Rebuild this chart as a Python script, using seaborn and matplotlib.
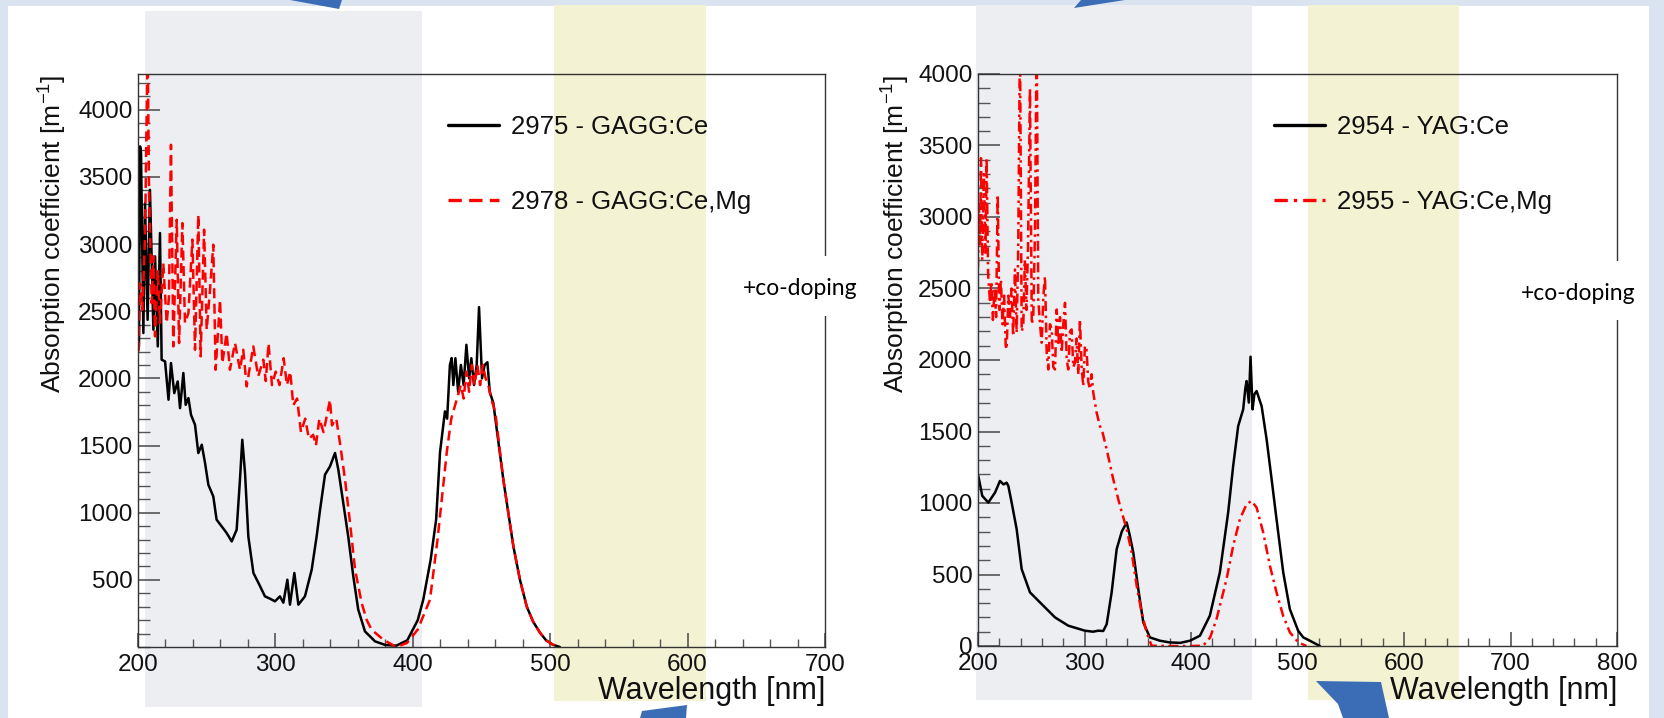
import matplotlib
matplotlib.use("Agg")
import matplotlib.pyplot as plt
from matplotlib.patches import Rectangle, Polygon
from matplotlib.ticker import MultipleLocator, FixedLocator
import pandas as pd
import seaborn as sns

# ---------------- data ----------------
gagg_ce_wl = [200, 200.7, 201.5, 202.2, 203.9, 205.1, 207, 208.7, 211.2, 212.4, 214.4, 216, 217.2,
              219.7, 222.2, 224, 226.4, 228.9, 230.6, 233, 234.7, 236.7, 238.6, 241.5, 243.9, 246.4,
              248.8, 251.2, 254.8, 257.2, 260.9, 264.5, 268.2, 271.8, 274.2, 275.9, 277.9, 280.3, 284,
              288, 292.4, 296, 299.7, 303.3, 305.8, 308.7, 310.6, 313.8, 316.7, 321.5, 326.4, 330,
              332.5, 336.1, 339.7, 343.4, 345.8, 349.4, 353, 356.7, 360.3, 365.2, 372.5, 380, 388,
              396, 403.6, 407.6, 413, 417, 419.8, 423.4, 425, 427, 428.3, 429.5, 431, 433, 435, 437,
              439, 441, 442.6, 444.5, 446.5, 448.2, 450.4, 452.3, 454.3, 456, 458.6, 462, 465.9,
              469.5, 473.2, 478, 482.9, 487.5, 492.6, 497, 502, 507]
gagg_ce_val = [2250, 2238, 3727, 3677, 2337, 3305, 2436, 3404, 2362, 2908, 2238, 3082, 2139,
               2126, 1841, 2114, 1890, 1977, 1778, 2040, 1803, 1853, 1728, 1654, 1444, 1506,
               1370, 1208, 1121, 948, 898, 849, 786, 873, 1245, 1543, 1295, 823, 551,
               470, 377, 360, 340, 377, 330, 501, 315, 551, 315, 377, 575, 823,
               1022, 1283, 1344, 1444, 1320, 1072, 823, 526, 278, 116, 42, 15, 10,
               50, 200, 352, 650, 950, 1448, 1754, 1700, 2100, 2151, 1950, 2150, 1900, 2100, 1950,
               2250, 2000, 2150, 1950, 2100, 2530, 2000, 2100, 2120, 1900, 1816, 1550, 1245,
               1000, 749, 500, 302, 190, 106, 50, 17, 0]

gagg_mg_wl = [200, 200.5, 201.5, 203.2, 205.1, 207, 208, 210, 211.2, 212.4, 214.4, 216, 218.4,
              220.9, 222.5, 224, 225.7, 228.2, 229.9, 232.3, 234.2, 236.7, 239.6, 241.5, 243.9,
              245.6, 248.1, 250, 252.4, 254.8, 256.5, 259.7, 261.4, 264.5, 266.9, 270.6, 274.2,
              276.6, 279.1, 283.9, 287.5, 291.2, 293, 295, 297.5, 300.2, 303, 306, 308.4, 310.8,
              313, 315.8, 318.6, 321.7, 324.4, 327.5, 329.5, 332, 335, 338, 339.7, 341.2, 343.4,
              344.3, 347, 350.7, 354.3, 358, 362.8, 366.5, 370, 378.6, 388, 395.8, 403.6, 412.5,
              418, 424.7, 428, 431.9, 435, 437, 439, 441, 443, 445, 447, 449, 451, 453, 455, 457,
              460, 465.9, 469.5, 473.2, 478, 482.9, 487.5, 492.6, 497, 502, 507]
gagg_mg_val = [2200, 2213, 2709, 2511, 3057, 4500, 3429, 2560, 2908, 2313, 2808, 2412, 2858,
               2412, 2600, 3739, 2238, 3181, 2263, 3156, 2412, 2486, 3033, 2213, 3218,
               2164, 3107, 2362, 2660, 2995, 2064, 2585, 2114, 2337, 2064, 2263, 2064,
               2213, 1940, 2238, 2015, 2139, 1980, 2260, 1950, 2050, 1950, 2150, 1950, 2050,
               1800, 1850, 1600, 1700, 1550, 1580, 1500, 1700, 1600, 1750, 1840, 1650, 1692,
               1700, 1518, 1245, 925, 575, 327, 200, 129, 54, 0, 30, 130, 352,
               800, 1448, 1700, 1840, 1950, 1850, 2050, 1900, 2100, 1950, 2100, 1950, 2100, 2000, 1950, 1850,
               1750, 1245, 1000, 749, 500, 302, 190, 106, 50, 17, 0]

yag_ce_wl = [200.3, 204, 209.7, 213, 216, 220.6, 224, 226.9, 228.5, 231.6, 236.3, 241, 248.8,
             259.8, 272.3, 284.8, 300.4, 308, 312.9, 317.6, 320.8, 325.5, 330.2, 335, 339.6,
             342.3, 345.8, 350.5, 355.2, 361.4, 370.8, 380, 390, 399, 408.4, 417.7, 427.1,
             434.9, 439.6, 444.3, 449, 451, 452.2, 454.3, 455.9, 457.8, 459.5, 461.6, 466.3,
             471, 475.7, 480.3, 486.6, 492.8, 500.6, 505.4, 511.6, 521]
yag_ce_val = [1189, 1050, 1003, 1040, 1073, 1154, 1130, 1142, 1119, 1003, 817, 538, 375,
              293, 200, 142, 107, 100, 107, 105, 152, 375, 677, 800, 864,
              780, 654, 398, 165, 60, 37, 25, 22, 37, 72, 212, 515,
              934, 1259, 1538, 1655, 1800, 1853, 1702, 2023, 1655, 1760, 1783, 1678,
              1445, 1166, 887, 515, 258, 107, 60, 37, 0]

yag_mg_wl = [200, 200.8, 202, 202.8, 204, 205.5, 207, 208.1, 209.5, 211.3, 212.5, 214, 215.5,
             217, 218.5, 220, 221.5, 223, 224.5, 226, 226.9, 228.5, 230, 231.5, 233, 234.7,
             236.3, 237.8, 239.4, 241, 242.5, 244, 245.5, 247, 248.8, 250.5, 251.9, 253.5,
             255.1, 256.6, 258.2, 259.8, 261.4, 262.9, 264.5, 266, 267.6, 269.2, 270.7, 272.3,
             273.9, 275.4, 277, 278.6, 280.1, 281.7, 283.3, 284.8, 286.4, 287.9, 289.5, 291,
             292.6, 294.1, 295.7, 297.3, 298.8, 300.4, 301.9, 303.5, 305.1, 306.7, 308.2, 311.4,
             314.5, 317, 320.8, 327, 333.3, 339.6, 344.3, 349, 353.6, 358.3, 363, 380, 400,
             411.4, 418, 424, 433.4, 439.6, 445.9, 452.2, 456.9, 461.6, 467.8, 474.1, 480.3,
             486.5, 492.8, 500.6, 508.4]
yag_mg_val = [2650, 3100, 2800, 3412, 2700, 3300, 2750, 3412, 2600, 2400, 2550, 2280, 2500,
              2300, 3156, 2350, 2560, 2250, 2450, 2100, 2074, 2450, 2300, 2500, 2167, 2633,
              2190, 2800, 4300, 2200, 2237, 2700, 2350, 2800, 3901, 2250, 2306, 2900,
              4300, 2423, 2250, 2121, 2450, 2586, 2050, 1934, 2250, 2214, 1950, 1934,
              2353, 2100, 2300, 2051, 2250, 2400, 2000, 1934, 2200, 2214, 1950, 1981,
              2150, 1900, 2283, 1950, 1818, 2100, 2074, 1850, 1795, 1900, 1772, 1632,
              1538, 1492, 1376, 1166, 980, 817, 654, 421, 235, 96, 2, 0, 0,
              2, 60, 189, 468, 700, 887, 992, 1015, 968, 794, 561, 375,
              212, 96, 26, 0]

left_labels = ["2975 - GAGG:Ce", "2978 - GAGG:Ce,Mg"]
right_labels = ["2954 - YAG:Ce", "2955 - YAG:Ce,Mg"]
y_label = "Absorption coefficient [m$^{-1}$]"
x_label = "Wavelength [nm]"
note = "+co-doping"

# ---------------- style ----------------
sns.set_theme(style="white")
plt.rcParams['font.family'] = ['Liberation Sans', 'DejaVu Sans']
plt.rcParams['mathtext.fontset'] = 'custom'
plt.rcParams['mathtext.rm'] = 'Liberation Sans'
plt.rcParams['mathtext.it'] = 'Liberation Sans:italic'

W, H = 1665, 718
fig = plt.figure(figsize=(W / 100, H / 100), dpi=100)
fig.patch.set_facecolor('#dae3f0')


def fx(x):
    return x / W


def fy(y):
    return 1 - y / H


def rect(x0, y0, x1, y1, color, z):
    fig.add_artist(Rectangle((fx(x0), fy(y1)), fx(x1) - fx(x0), fy(y0) - fy(y1),
                             transform=fig.transFigure, facecolor=color,
                             edgecolor='none', zorder=z))


def poly(pts, color='#3a6db5'):
    fig.add_artist(Polygon([(fx(x), fy(y)) for x, y in pts], closed=True,
                           transform=fig.transFigure, facecolor=color,
                           edgecolor='none', zorder=5))


# slide background and shaded bands
rect(8, 6, 1649, 718, 'white', -10)
rect(145, 11, 422, 707, '#edeef2', -5)
rect(554, 5, 706, 701, '#f3f3d4', -5)
rect(976, 5, 1252, 700, '#edeef2', -5)
rect(1308, 5, 1459, 700, '#f3f3d4', -5)

# decorative arrows from the slide
poly([(290, 0), (342, 0), (339, 9)])
poly([(1074, 8), (1081, 0), (1125, 0)])
poly([(640, 718), (642, 711), (687, 705), (686, 718)])
poly([(1316, 681), (1381, 682), (1389, 718), (1343, 718), (1338, 704)])

panels = [
    dict(box=(138, 647, 825, 74), xlim=(200, 700), ylim=(0, 4266),
         yticks=[500, 1000, 1500, 2000, 2500, 3000, 3500, 4000],
         xticks=[200, 300, 400, 500, 600, 700],
         series=[(gagg_ce_wl, gagg_ce_val, 'black', '-'),
                 (gagg_mg_wl, gagg_mg_val, '#ff0000', (0, (4.0, 2.2)))],
         labels=left_labels, leg=(448, 115), ylab_x=53, xlab_r=825, note=(800, 289),
         gap=(256, 316)),
    dict(box=(978, 646, 1617, 74), xlim=(200, 800), ylim=(0, 4000),
         yticks=[0, 500, 1000, 1500, 2000, 2500, 3000, 3500, 4000],
         xticks=[200, 300, 400, 500, 600, 700, 800],
         series=[(yag_ce_wl, yag_ce_val, 'black', '-'),
                 (yag_mg_wl, yag_mg_val, '#ff0000', (0, (4.0, 1.8, 1.0, 1.8)))],
         labels=right_labels, leg=(1274, 115), ylab_x=896, xlab_r=1617, note=(1578, 293),
         gap=(261, 320)),
]

for p in panels:
    x0, yb, x1, yt = p['box']
    ax = fig.add_axes([fx(x0), fy(yb), fx(x1) - fx(x0), fy(yt) - fy(yb)])
    ax.set_facecolor('none')
    for (wl, val, col, ls), lab in zip(p['series'], p['labels']):
        df = pd.DataFrame({'wavelength': wl, 'absorption': val})
        sns.lineplot(data=df, x='wavelength', y='absorption', ax=ax, color=col,
                     linestyle=ls, linewidth=1.8, estimator=None, sort=False, label=lab)
    ax.set_xlim(*p['xlim'])
    ax.set_ylim(*p['ylim'])
    ax.xaxis.set_major_locator(FixedLocator(p['xticks']))
    ax.xaxis.set_minor_locator(MultipleLocator(20))
    ax.yaxis.set_major_locator(FixedLocator(p['yticks']))
    ax.yaxis.set_minor_locator(MultipleLocator(100))
    ax.set_xlabel('')
    ax.set_ylabel('')
    for s in ax.spines.values():
        s.set_color('#333333')
        s.set_linewidth(1.0)
    ax.tick_params(axis='both', which='both', direction='in', top=False, right=False,
                   bottom=True, left=True,
                   colors='#555555', labelcolor='#111111', labelsize=17.5)
    ax.tick_params(axis='y', which='major', length=16, width=1.2, pad=4)
    ax.tick_params(axis='y', which='minor', length=8.5, width=1.0)
    ax.tick_params(axis='x', which='major', length=10, width=1.2, pad=5)
    ax.tick_params(axis='x', which='minor', length=6, width=1.0)
    lx, ly = p['leg']
    leg = ax.legend(loc='upper left', bbox_to_anchor=(fx(lx), fy(ly)),
                    bbox_transform=fig.transFigure, frameon=False, fontsize=18.5,
                    borderaxespad=0, borderpad=0, labelspacing=2.0,
                    handlelength=2.0, handletextpad=0.45)
    for t in leg.get_texts():
        t.set_color('#111111')
    for h in leg.get_lines():
        h.set_linewidth(2.4)
    fig.text(fx(p['ylab_x']), fy(75), y_label, rotation=90, ha='center', va='top',
             fontsize=19, color='#111111')
    fig.text(fx(p['xlab_r']), fy(691), x_label, ha='right', va='center',
             fontsize=22, color='#111111')
    # white gap in the right spine behind the note
    g0, g1 = p['gap']
    rect(x1 - 4, g0, x1 + 4, g1, 'white', 8)
    nx, ny = p['note']
    fig.text(fx(nx), fy(ny), note, ha='center', va='center', fontsize=16.5,
             family=['Lato', 'DejaVu Sans'], color='black', zorder=10)

fig.savefig('out.png', dpi=100)
